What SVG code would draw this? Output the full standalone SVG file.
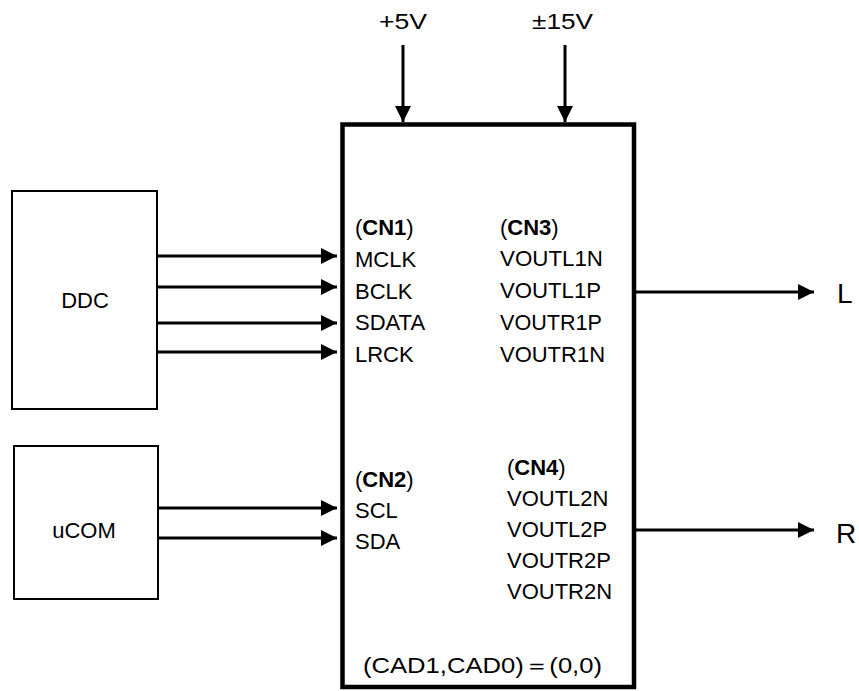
<svg xmlns="http://www.w3.org/2000/svg" width="859" height="691" viewBox="0 0 859 691">
<style>
.t{font-family:"Liberation Sans",Arial,sans-serif;font-size:22px;fill:#000}
.big{font-size:28px}
.b{font-weight:bold}
.box{fill:#fff;stroke:#000;stroke-width:2}
.main{fill:#fff;stroke:#000;stroke-width:4.5}
.w{stroke:#000;stroke-width:3;fill:none}
</style>
<defs>
<marker id="ah" markerUnits="userSpaceOnUse" markerWidth="17" markerHeight="17" refX="16" refY="8" orient="auto">
<path d="M0,0 L16,8 L0,16 Z" fill="#000"/>
</marker>
</defs>
<g id="main">
<rect class="main" x="342.5" y="124.5" width="291.5" height="562.5"/>
<text class="t" x="355" y="235">(<tspan class="b">CN1</tspan>)</text>
<text class="t" x="355" y="267">MCLK</text>
<text class="t" x="355" y="299">BCLK</text>
<text class="t" x="355" y="330">SDATA</text>
<text class="t" x="355" y="362">LRCK</text>
<text class="t" x="355" y="487">(<tspan class="b">CN2</tspan>)</text>
<text class="t" x="355" y="518">SCL</text>
<text class="t" x="355" y="549">SDA</text>
<text class="t" x="500" y="235">(<tspan class="b">CN3</tspan>)</text>
<text class="t" x="500" y="266" textLength="103" lengthAdjust="spacingAndGlyphs">VOUTL1N</text>
<text class="t" x="500" y="298" textLength="101" lengthAdjust="spacingAndGlyphs">VOUTL1P</text>
<text class="t" x="500" y="330" textLength="102" lengthAdjust="spacingAndGlyphs">VOUTR1P</text>
<text class="t" x="500" y="362" textLength="105" lengthAdjust="spacingAndGlyphs">VOUTR1N</text>
<text class="t" x="507" y="475">(<tspan class="b">CN4</tspan>)</text>
<text class="t" x="507" y="506">VOUTL2N</text>
<text class="t" x="507" y="537">VOUTL2P</text>
<text class="t" x="507" y="568">VOUTR2P</text>
<text class="t" x="507" y="599">VOUTR2N</text>
<text class="t" x="363" y="673" textLength="239" lengthAdjust="spacingAndGlyphs">(CAD1,CAD0)＝(0,0)</text>
</g>
<g id="ddc">
<rect class="box" x="12" y="191" width="145" height="218"/>
<text class="t" x="85" y="308" text-anchor="middle">DDC</text>
</g>
<g id="ucom">
<rect class="box" x="14" y="446" width="144" height="153"/>
<text class="t" x="84" y="538" text-anchor="middle">uCOM</text>
</g>
<g id="p5v">
<text class="t" x="379" y="29" textLength="48" lengthAdjust="spacingAndGlyphs">+5V</text>
</g>
<g id="p15v">
<text class="t" x="532" y="29" textLength="61" lengthAdjust="spacingAndGlyphs">±15V</text>
</g>
<g id="outL">
<text class="t big" x="837" y="303">L</text>
</g>
<g id="outR">
<text class="t big" x="836" y="543">R</text>
</g>
<g id="connectors">
<line class="w" x1="403" y1="45" x2="403" y2="122" marker-end="url(#ah)"/>
<line class="w" x1="565" y1="45" x2="565" y2="122" marker-end="url(#ah)"/>
<line class="w" x1="157" y1="256" x2="337" y2="256" marker-end="url(#ah)"/>
<line class="w" x1="157" y1="287" x2="337" y2="287" marker-end="url(#ah)"/>
<line class="w" x1="157" y1="323" x2="337" y2="323" marker-end="url(#ah)"/>
<line class="w" x1="157" y1="352" x2="337" y2="352" marker-end="url(#ah)"/>
<line class="w" x1="158" y1="508" x2="337" y2="508" marker-end="url(#ah)"/>
<line class="w" x1="158" y1="538" x2="337" y2="538" marker-end="url(#ah)"/>
<line class="w" x1="634" y1="292" x2="814" y2="292" marker-end="url(#ah)"/>
<line class="w" x1="634" y1="530" x2="814" y2="530" marker-end="url(#ah)"/>
</g>
</svg>
